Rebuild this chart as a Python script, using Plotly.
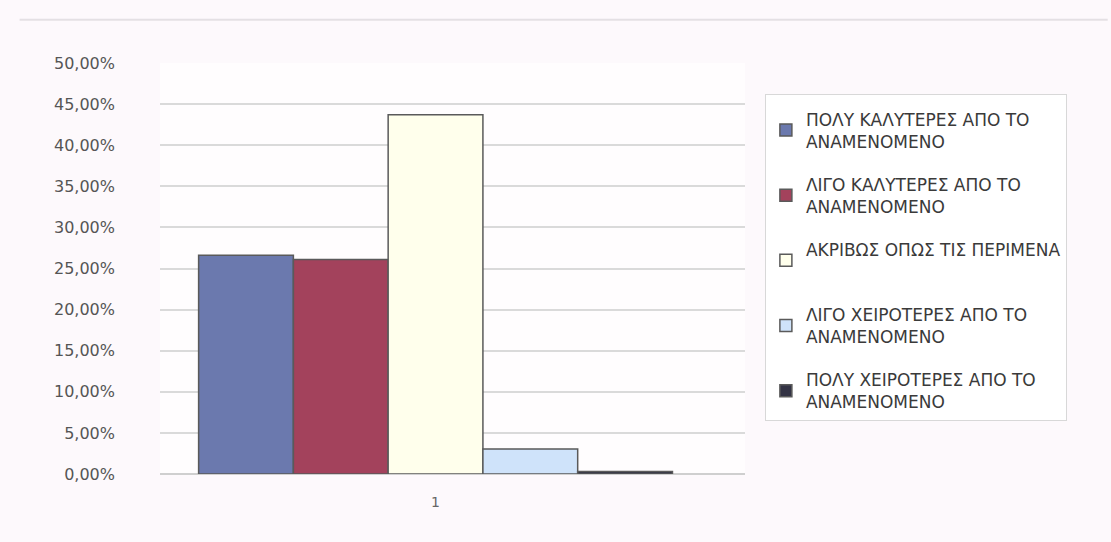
import plotly.graph_objects as go

categories = ["1"]
series_names = [
    "ΠΟΛΥ ΚΑΛΥΤΕΡΕΣ ΑΠΟ ΤΟ<br>ΑΝΑΜΕΝΟΜΕΝΟ",
    "ΛΙΓΟ ΚΑΛΥΤΕΡΕΣ ΑΠΟ ΤΟ<br>ΑΝΑΜΕΝΟΜΕΝΟ",
    "ΑΚΡΙΒΩΣ ΟΠΩΣ ΤΙΣ ΠΕΡΙΜΕΝΑ<br> ",
    "ΛΙΓΟ ΧΕΙΡΟΤΕΡΕΣ ΑΠΟ ΤΟ<br>ΑΝΑΜΕΝΟΜΕΝΟ",
    "ΠΟΛΥ ΧΕΙΡΟΤΕΡΕΣ ΑΠΟ ΤΟ<br>ΑΝΑΜΕΝΟΜΕΝΟ",
]
series_values = [0.2660, 0.2610, 0.4370, 0.0305, 0.0030]
series_colors = ["#6B79AE", "#A3425C", "#FFFFEC", "#CFE3FA", "#333344"]
tick_values = [0, 0.05, 0.10, 0.15, 0.20, 0.25, 0.30, 0.35, 0.40, 0.45, 0.50]

fig = go.Figure()
for i, (name, val, col) in enumerate(zip(series_names, series_values, series_colors)):
    fig.add_trace(go.Bar(
        x=categories, y=[val], name=name, legendgroup=f"g{i}",
        marker=dict(color=col, line=dict(color="#5a5a5a", width=1.5)),
    ))

fig.update_layout(
    width=1111, height=542,
    margin=dict(l=160, r=366, t=63, b=68),
    paper_bgcolor="#FDF9FC",
    plot_bgcolor="#FFFDFE",
    separators=",.",
    barmode="group",
    bargap=0.19, bargroupgap=0,
    showlegend=True,
    font=dict(family="DejaVu Sans, Arial", color="#444444"),
    legend=dict(
        x=1.034, xanchor="left", y=0.925, yanchor="top",
        bgcolor="#FFFFFF", bordercolor="#D8D8D8", borderwidth=1,
        font=dict(family="DejaVu Sans", size=17, color="#3a3a3a"),
        title=dict(text=" ", font=dict(size=5)),
        tracegroupgap=18, itemwidth=30,
    ),
    xaxis=dict(
        range=[-0.471, 0.529],
        showgrid=False, showline=False, ticks="",
        tickfont=dict(size=14, color="#666666"),
        ticklabelstandoff=18,
    ),
    yaxis=dict(
        range=[0, 0.5], tickvals=tick_values, tickformat=".2%",
        showgrid=True, gridcolor="#DADADA", gridwidth=1.5,
        zeroline=True, zerolinecolor="#CFCFCF", zerolinewidth=1.5,
        showline=False, ticks="",
        tickfont=dict(family="DejaVu Sans", size=16, color="#555555"),
        ticklabelstandoff=44,
    ),
    shapes=[dict(type="line", xref="paper", yref="paper", x0=-0.24, x1=1.62,
                 y0=1.105, y1=1.105, line=dict(color="#E4E0E4", width=2))],
)

fig.write_html("out.html")
